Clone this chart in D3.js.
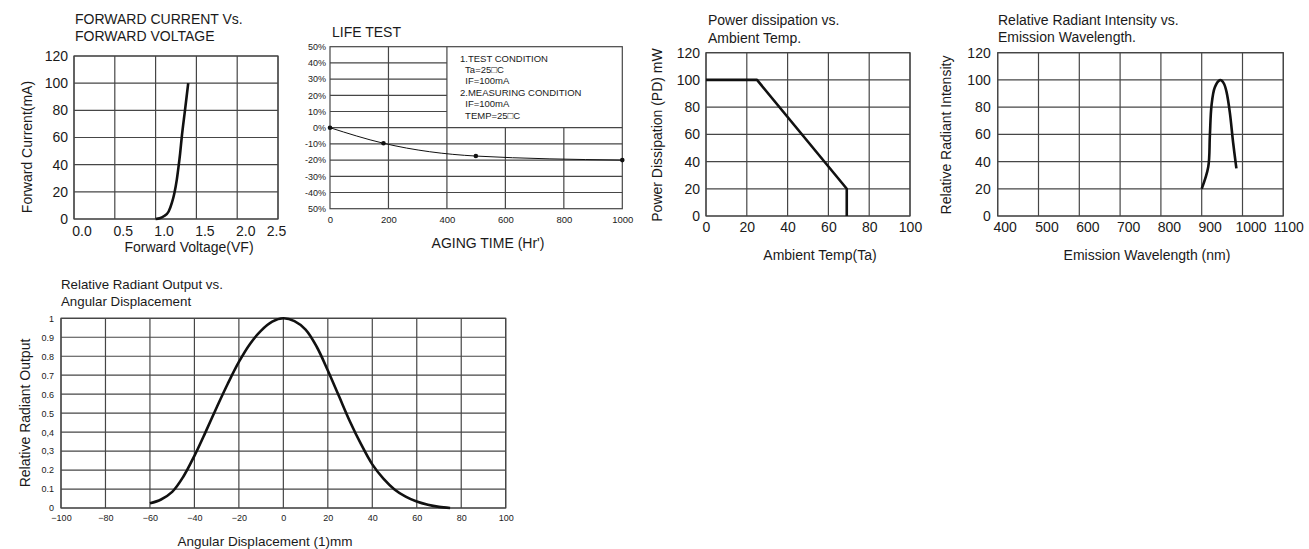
<!DOCTYPE html>
<meta charset="utf-8">
<script src="https://d3js.org/d3.v7.min.js"></script>
<style>
  body { margin: 0; background: #fff; }
  text { font-family: "Liberation Sans", Arial, sans-serif; fill: #1a1a1a; }
</style>
<div id="my_dataviz"></div>
<script>

    // ---- data ----
    var ivVoltage = [1.0, 1.05, 1.1, 1.16, 1.2, 1.23, 1.26, 1.28, 1.3, 1.32, 1.36, 1.4];
    var ivCurrent = [0, 0.5, 2, 5.5, 12, 19, 29, 38, 48, 60, 80, 100];
    var ivXTicks = [0, 0.5, 1.0, 1.5, 2.0, 2.5];
    var ivYTicks = [0, 20, 40, 60, 80, 100, 120];

    var lifeHours = [0, 183, 499, 1000];
    var lifeChange = [0, -9.6, -17.5, -20];
    var lifeXTicks = [0, 200, 400, 600, 800, 1000];
    var lifeYTicks = [50, 40, 30, 20, 10, 0, -10, -20, -30, -40, -50];
    var lifeYLabels = ["50%", "40%", "30%", "20%", "10%", "0%", "-10%", "-20%", "-30%", "-40%", "50%"];
    var lifeNotes = ["1.TEST CONDITION", "  Ta=25\u25A1C", "  IF=100mA", "2.MEASURING CONDITION", "  IF=100mA", "  TEMP=25\u25A1C"];

    var pdTemp = [0, 25, 69, 69];
    var pdPower = [100, 100, 20, 0];
    var pdXTicks = [0, 20, 40, 60, 80, 100];
    var pdYTicks = [0, 20, 40, 60, 80, 100, 120];

    var specWave = [900, 916, 920, 924, 932, 944, 949, 955, 961, 969, 977, 985];
    var specInt = [20, 36, 59, 81, 94.5, 99.8, 99.5, 97, 91, 76, 54, 35];
    var specXTicks = [400, 500, 600, 700, 800, 900, 1000, 1100];
    var specYTicks = [0, 20, 40, 60, 80, 100, 120];

    var angDeg = [-60, -55, -50, -45, -40, -35, -30, -25, -20, -15, -10, -5, 0, 5, 10, 15, 20, 25, 30, 35, 40, 45, 50, 55, 60, 65, 70, 75];
    var angOut = [0.025, 0.045, 0.085, 0.165, 0.275, 0.4, 0.53, 0.655, 0.77, 0.865, 0.935, 0.982, 1.0, 0.985, 0.94, 0.85, 0.725, 0.59, 0.455, 0.335, 0.23, 0.155, 0.098, 0.06, 0.034, 0.017, 0.006, 0];
    var angXTicks = [-100, -80, -60, -40, -20, 0, 20, 40, 60, 80, 100];
    var angYTicks = [0, 0.1, 0.2, 0.3, 0.4, 0.5, 0.6, 0.7, 0.8, 0.9, 1];
    var angYLabels = ["0", "0.1", "0.2", "0,3", "0,4", "0.5", "0.6", "0.7", "0.8", "0.9", "1"];

    var gridColor = "#464646";

    var svg = d3.select("#my_dataviz")
        .append("svg")
            .attr("width", 1309)
            .attr("height", 549);

    // one datasheet panel: grid, border, tick labels, titles
    function panel(o) {
        var g = svg.append("g");
        var x = d3.scaleLinear().domain(o.xDomain).range([o.left, o.left + o.width]);
        var y = d3.scaleLinear().domain(o.yDomain).range([o.top + o.height, o.top]);

        var vg = o.vGrid || o.xTicks, hg = o.hGrid || o.yTicks;
        g.selectAll(".vgrid").data(vg).enter().append("line")
            .attr("x1", function(d) { return x(d.v !== undefined ? d.v : d); })
            .attr("x2", function(d) { return x(d.v !== undefined ? d.v : d); })
            .attr("y1", function(d) { return y(d.from !== undefined ? d.from : o.yDomain[0]); })
            .attr("y2", function(d) { return y(d.to !== undefined ? d.to : o.yDomain[1]); })
            .attr("stroke", gridColor).attr("stroke-width", 1.2);
        g.selectAll(".hgrid").data(hg).enter().append("line")
            .attr("y1", function(d) { return y(d.v !== undefined ? d.v : d); })
            .attr("y2", function(d) { return y(d.v !== undefined ? d.v : d); })
            .attr("x1", function(d) { return x(d.from !== undefined ? d.from : o.xDomain[0]); })
            .attr("x2", function(d) { return x(d.to !== undefined ? d.to : o.xDomain[1]); })
            .attr("stroke", gridColor).attr("stroke-width", 1.2);
        g.append("rect")
            .attr("x", o.left).attr("y", o.top)
            .attr("width", o.width).attr("height", o.height)
            .attr("fill", "none").attr("stroke", gridColor).attr("stroke-width", 1.2);

        var xa = g.append("g")
            .attr("transform", "translate(0," + (o.top + o.height) + ")")
            .call(d3.axisBottom(x).tickValues(o.xTicks).tickSize(0).tickPadding(o.xPad).tickFormat(o.xFmt));
        var ya = g.append("g")
            .attr("transform", "translate(" + o.left + ",0)")
            .call(d3.axisLeft(y).tickValues(o.yTicks).tickSize(0).tickPadding(o.yPad).tickFormat(o.yFmt));
        [xa, ya].forEach(function(a, i) {
            a.select(".domain").remove();
            a.selectAll("text")
                .style("font-family", '"Liberation Sans", Arial, sans-serif')
                .style("font-size", (i == 0 ? o.xTickSize : o.yTickSize) + "px")
                .attr("fill", "#1a1a1a");
        });
        // the printed sheet sets some x labels a little right of their grid line
        if (o.xDx) {
            xa.selectAll("text").attr("dx", function(d, i) { return o.xDx[i]; });
        }

        o.title.forEach(function(t, i) {
            g.append("text")
                .attr("x", o.titleX).attr("y", o.titleY + i * o.titleGap)
                .style("font-size", o.titleSize + "px")
                .text(t);
        });
        g.append("text")
            .attr("x", o.xLabelX).attr("y", o.xLabelY)
            .attr("text-anchor", "middle")
            .style("font-size", o.xLabelSize + "px")
            .text(o.xLabel);
        if (o.yLabel) {
            g.append("text")
                .attr("transform", "translate(" + o.yLabelX + "," + o.yLabelY + ")rotate(-90)")
                .attr("text-anchor", "middle")
                .style("font-size", o.yLabelSize + "px")
                .text(o.yLabel);
        }
        return {g: g, x: x, y: y};
    }

    function curve(p, xs, ys, width, kind) {
        var pts = xs.map(function(d, i) { return [d, ys[i]]; });
        p.g.append("path")
            .datum(pts)
            .attr("fill", "none")
            .attr("stroke", "#111")
            .attr("stroke-width", width)
            .attr("stroke-linejoin", "round")
            .attr("d", d3.line()
                .x(function(d) { return p.x(d[0]); })
                .y(function(d) { return p.y(d[1]); })
                .curve(kind || d3.curveLinear));
        return pts;
    }

    var smooth = d3.curveCatmullRom.alpha(0.5);

    // FORWARD CURRENT Vs. FORWARD VOLTAGE
    var p1 = panel({
        left: 74, top: 56, width: 204, height: 163,
        xDomain: [0, 2.5], yDomain: [0, 120],
        xTicks: ivXTicks, yTicks: ivYTicks,
        xFmt: d3.format(".1f"), yFmt: d3.format("d"),
        xDx: [7.5, 8, 8, 8, 8, -2],
        xPad: 7, yPad: 6, xTickSize: 14, yTickSize: 14,
        title: ["FORWARD CURRENT Vs.", "FORWARD VOLTAGE"], titleX: 75, titleY: 24, titleGap: 16.5, titleSize: 14,
        xLabel: "Forward Voltage(VF)", xLabelX: 189, xLabelY: 252, xLabelSize: 14,
        yLabel: "Forward Current(mA)", yLabelX: 32, yLabelY: 147, yLabelSize: 14
    });
    curve(p1, ivVoltage, ivCurrent, 2.6, d3.curveMonotoneX);

    // LIFE TEST
    var p2 = panel({
        left: 330, top: 46.7, width: 292.3, height: 162,
        xDomain: [0, 1000], yDomain: [-50, 50],
        xTicks: lifeXTicks, yTicks: lifeYTicks,
        vGrid: [200, 400, {v: 600, to: 0}, {v: 800, to: 0}],
        hGrid: [{v: 40, to: 400}, {v: 30, to: 400}, {v: 20, to: 400}, {v: 10, to: 400}, 0, -10, -20, -30, -40],
        xFmt: d3.format("d"), yFmt: function(d, i) { return lifeYLabels[i]; },
        xPad: 8, yPad: 4, xTickSize: 9.5, yTickSize: 9,
        title: ["LIFE TEST"], titleX: 332, titleY: 36.5, titleGap: 0, titleSize: 14,
        xLabel: "AGING TIME (Hr')", xLabelX: 488, xLabelY: 248, xLabelSize: 14
    });
    p2.g.selectAll(".note").data(lifeNotes).enter().append("text")
        .attr("x", 460)
        .attr("y", function(d, i) { return 61.5 + i * 11.4; })
        .attr("xml:space", "preserve")
        .style("font-size", "9.5px")
        .text(function(d) { return d; });
    var lifePts = curve(p2, lifeHours, lifeChange, 1, d3.curveMonotoneX);
    p2.g.selectAll(".dot").data(lifePts).enter().append("circle")
        .attr("cx", function(d) { return p2.x(d[0]); })
        .attr("cy", function(d) { return p2.y(d[1]); })
        .attr("r", 2.3)
        .attr("fill", "#111");

    // Power dissipation vs. Ambient Temp.
    var p3 = panel({
        left: 706, top: 52.7, width: 204, height: 163.3,
        xDomain: [0, 100], yDomain: [0, 120],
        xTicks: pdXTicks, yTicks: pdYTicks,
        xFmt: d3.format("d"), yFmt: d3.format("d"),
        xPad: 6, yPad: 6, xTickSize: 14, yTickSize: 14,
        title: ["Power dissipation vs.", "Ambient Temp."], titleX: 708, titleY: 25, titleGap: 17.5, titleSize: 14,
        xLabel: "Ambient Temp(Ta)", xLabelX: 820, xLabelY: 260, xLabelSize: 14,
        yLabel: "Power Dissipation (PD) mW", yLabelX: 662, yLabelY: 135, yLabelSize: 14
    });
    curve(p3, pdTemp, pdPower, 2.6);

    // Relative Radiant Intensity vs. Emission Wavelength.
    var p4 = panel({
        left: 997.7, top: 52.7, width: 285.6, height: 163.3,
        xDomain: [400, 1100], yDomain: [0, 120],
        xTicks: specXTicks, yTicks: specYTicks,
        xFmt: d3.format("d"), yFmt: d3.format("d"),
        xDx: [7, 8, 8, 8, 8, 8, 8, 5],
        xPad: 6, yPad: 7, xTickSize: 14, yTickSize: 14,
        title: ["Relative Radiant Intensity vs.", "Emission Wavelength."], titleX: 998, titleY: 25, titleGap: 17, titleSize: 14,
        xLabel: "Emission Wavelength (nm)", xLabelX: 1147, xLabelY: 260, xLabelSize: 14,
        yLabel: "Relative Radiant Intensity", yLabelX: 951, yLabelY: 135, yLabelSize: 14
    });
    curve(p4, specWave, specInt, 2.6, smooth);

    // Relative Radiant Output vs. Angular Displacement
    var p5 = panel({
        left: 61, top: 318.3, width: 444.7, height: 189.7,
        xDomain: [-100, 100], yDomain: [0, 1],
        xTicks: angXTicks, yTicks: angYTicks,
        xFmt: d3.format("d"), yFmt: function(d, i) { return angYLabels[i]; },
        xPad: 7, yPad: 7, xTickSize: 9, yTickSize: 9,
        title: ["Relative Radiant Output vs.", "Angular Displacement"], titleX: 61, titleY: 288.5, titleGap: 17, titleSize: 13.3,
        xLabel: "Angular Displacement (1)mm", xLabelX: 265, xLabelY: 546, xLabelSize: 13.5,
        yLabel: "Relative Radiant Output", yLabelX: 30, yLabelY: 413, yLabelSize: 14
    });
    curve(p5, angDeg, angOut, 2.6, smooth);

</script>
